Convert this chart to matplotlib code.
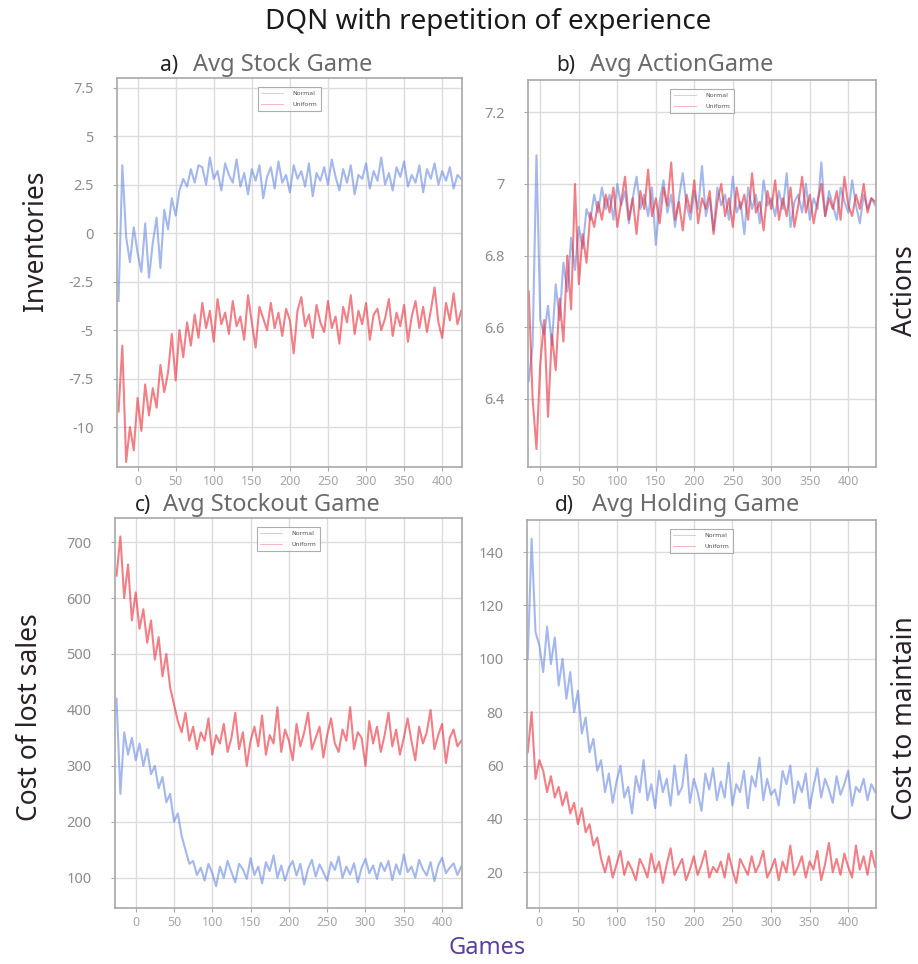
import numpy as np
import matplotlib
matplotlib.use("Agg")
import matplotlib.pyplot as plt

# ---------------- data ----------------
games_left = np.arange(-25, 430, 5)    # panels a) and c)
games_right = np.arange(-15, 440, 5)   # panels b) and d)

stock_normal = [
    -3.5, 3.5, -0.2, -1.5, 0.3, -1.0, -2.0, 0.5, -2.3, -0.5,
    0.8, -1.8, 1.2, 0.2, 1.8, 0.9, 2.2, 2.8, 2.4, 3.3,
    2.6, 3.5, 3.4, 2.5, 3.9, 2.8, 3.2, 2.2, 3.6, 3.0,
    2.6, 3.8, 2.4, 3.1, 2.0, 3.3, 2.7, 3.5, 1.8, 2.9,
    3.4, 2.3, 3.7, 2.6, 3.0, 2.1, 3.5, 2.8, 3.2, 2.4,
    3.6, 1.9, 3.1, 2.7, 3.4, 2.5, 3.8, 2.9, 2.2, 3.3,
    2.6, 3.5, 2.0, 3.0, 2.8, 3.6, 2.3, 3.2, 2.7, 3.9,
    2.5, 3.1, 2.2, 3.4, 2.9, 3.7, 2.4, 3.0, 2.6, 3.5,
    2.1, 3.3, 2.8, 3.6, 2.5, 3.2, 2.7, 3.4, 2.3, 3.0,
    2.8,
]
stock_uniform = [
    -9.2, -5.8, -11.8, -10.0, -11.2, -8.5, -10.2, -7.8, -9.4, -8.0,
    -9.0, -6.8, -8.2, -7.2, -5.2, -7.6, -5.0, -6.4, -4.6, -5.8,
    -4.2, -5.4, -3.6, -4.9, -4.0, -5.6, -3.4, -4.7, -4.1, -5.2,
    -3.5, -4.8, -4.3, -5.5, -3.2, -4.6, -5.9, -3.8, -4.4, -5.0,
    -3.6, -4.9, -4.1, -5.3, -3.9, -4.5, -6.2, -4.0, -3.3, -4.8,
    -4.2, -5.4, -3.7, -4.6, -5.1, -3.5, -4.9, -4.3, -5.7, -3.8,
    -4.6, -3.2, -5.2, -4.0, -4.7, -3.6, -5.5, -4.2, -3.9, -5.0,
    -4.4, -3.4, -5.3, -4.1, -4.8, -3.7, -5.6, -4.3, -3.5, -4.9,
    -3.8, -5.1, -4.0, -2.8, -4.6, -5.4, -3.6, -4.5, -3.1, -4.7,
    -4.0,
]

action_normal = [
    6.45, 6.55, 7.08, 6.62, 6.58, 6.66, 6.55, 6.72, 6.62, 6.78,
    6.70, 6.85, 6.76, 6.88, 6.82, 6.93, 6.90, 6.97, 6.92, 6.99,
    6.93, 6.97, 6.90, 7.00, 6.94, 6.98, 6.89, 6.96, 7.02, 6.93,
    6.97, 6.91, 6.99, 6.83, 6.95, 7.01, 6.92, 6.97, 6.88, 6.96,
    7.03, 6.94, 6.90, 6.98, 6.93, 7.05, 6.91, 6.96, 6.87, 6.99,
    6.94, 6.97, 6.90, 7.02, 6.92, 6.95, 6.86, 6.99, 6.93, 6.97,
    6.89, 7.01, 6.94, 6.96, 6.91, 6.98, 6.93, 7.03, 6.88, 6.95,
    6.97, 6.92, 7.00, 6.90, 6.96, 6.93, 7.06, 6.91, 6.98, 6.94,
    6.90, 6.99, 6.95, 6.92, 7.01, 6.94, 6.89, 6.97, 6.93, 6.96,
    6.94,
]
action_uniform = [
    6.70, 6.40, 6.26, 6.50, 6.62, 6.35, 6.58, 6.48, 6.68, 6.56,
    6.80, 6.65, 7.00, 6.72, 6.86, 6.78, 6.92, 6.88, 6.95, 6.90,
    6.97, 6.92, 6.99, 6.88, 6.95, 7.02, 6.90, 6.96, 6.86, 6.98,
    6.93, 7.04, 6.91, 6.96, 6.89, 6.99, 6.94, 7.06, 6.90, 6.95,
    6.87, 6.97, 6.92, 7.01, 6.89, 6.96, 6.93, 6.98, 6.86, 6.95,
    7.00, 6.91, 6.96, 6.88, 6.99, 6.93, 6.97, 6.90, 7.03, 6.92,
    6.95, 6.87, 6.98, 6.93, 7.01, 6.90, 6.96, 6.91, 6.99, 6.88,
    6.94, 7.02, 6.92, 6.97, 6.89, 6.95, 7.00, 6.91, 6.96, 6.93,
    6.98, 6.90, 7.02, 6.94, 6.91, 6.97, 6.93, 7.00, 6.92, 6.96,
    6.95,
]

stockout_normal = [
    420, 250, 360, 320, 350, 310, 340, 300, 330, 285,
    300, 260, 280, 235, 250, 200, 215, 175, 150, 125,
    130, 105, 118, 95, 125, 108, 85, 120, 100, 130,
    110, 92, 125, 115, 98, 135, 105, 120, 90, 128,
    112, 140, 100, 122, 95, 118, 130, 104, 125, 88,
    116, 132, 102, 124, 110, 95, 128, 114, 138, 100,
    120, 106, 126, 92, 118, 134, 108, 122, 98, 127,
    112, 130, 96, 124, 106, 142, 110, 120, 100, 132,
    115, 104, 128, 94, 122, 136, 108, 118, 126, 105,
    120,
]
stockout_uniform = [
    640, 710, 600, 660, 560, 610, 545, 580, 520, 560,
    490, 530, 460, 500, 440, 410, 380, 360, 395, 345,
    370, 330, 360, 345, 385, 320, 355, 340, 375, 325,
    350, 395, 330, 360, 300, 345, 370, 335, 390, 320,
    355, 340, 405, 325, 365, 345, 310, 375, 335, 360,
    395, 330, 350, 370, 315, 355, 385, 340, 325, 365,
    345, 405, 330, 360, 350, 300, 380, 340, 370, 325,
    355, 395, 335, 365, 320, 350, 385, 345, 310, 370,
    340, 360, 400, 330, 355, 375, 305, 350, 365, 335,
    345,
]

holding_normal = [
    100, 145, 110, 105, 95, 112, 98, 108, 90, 100,
    85, 95, 80, 88, 72, 78, 65, 70, 58, 62,
    50, 57, 46, 54, 60, 48, 52, 42, 56, 50,
    62, 47, 53, 44, 58, 50, 55, 45, 60, 49,
    52, 64, 46, 55, 50, 43, 57, 51, 59, 47,
    54, 48, 61, 45, 53, 50, 58, 44, 56, 52,
    63, 47, 55, 49, 51, 45, 58, 53, 60, 46,
    54, 50, 57, 44, 52, 59, 48, 55, 51, 46,
    56, 49, 53, 58, 45, 52, 50, 55, 47, 53,
    50,
]
holding_uniform = [
    65, 80, 55, 62, 58, 50, 56, 48, 52, 45,
    50, 42, 46, 38, 44, 35, 38, 30, 33, 25,
    20, 26, 18, 23, 28, 19, 24, 21, 17, 25,
    22, 18, 27, 20, 24, 16, 23, 29, 19, 22,
    25, 17, 21, 26, 19, 23, 28, 18, 22, 20,
    24, 18, 27, 21, 16, 25, 22, 19, 26, 20,
    23, 28, 18, 21, 25, 17, 24, 20, 30, 19,
    22, 26, 18, 24, 21, 28, 17, 23, 31, 20,
    25, 19, 27, 22, 18, 30, 21, 26, 19, 28,
    22,
]

x_ticks = [0, 50, 100, 150, 200, 250, 300, 350, 400]
stock_ticks = [-10, -7.5, -5, -2.5, 0, 2.5, 5, 7.5]
stock_ticklabels = ["-10", "-7.5", "-5", "-2.5", "0", "2.5", "5", "7.5"]
action_ticks = [6.4, 6.6, 6.8, 7.0, 7.2]
action_ticklabels = ["6.4", "6.6", "6.8", "7", "7.2"]
stockout_ticks = [100, 200, 300, 400, 500, 600, 700]
holding_ticks = [20, 40, 60, 80, 100, 120, 140]

# ---------------- figure ----------------
W, H = 918, 964
fig = plt.figure(figsize=(W / 100, H / 100), dpi=100)
LABEL_FONT = ["Noto Sans", "DejaVu Sans"]


def px_box(left, top, right, bottom):
    return [left / W, 1 - bottom / H, (right - left) / W, (bottom - top) / H]


BLUE = "#5a7ee0"
RED = "#ec2a36"


def make_panel(rect, games, normal, uniform, xlim, ylim, yticks, yticklabels):
    ax = fig.add_axes(rect)
    ax.plot(games, normal, color=BLUE, lw=1.5, alpha=0.55, label="Normal")
    ax.plot(games, uniform, color=RED, lw=1.5, alpha=0.6, label="Uniform")
    ax.set_xlim(*xlim)
    ax.set_ylim(*ylim)
    ax.set_xticks(x_ticks)
    ax.set_yticks(yticks)
    ax.set_yticklabels(yticklabels)
    ax.grid(True, color="#dcdcdc", lw=1.0)
    ax.set_axisbelow(True)
    for s in ax.spines.values():
        s.set_color("#a8a8a8")
        s.set_linewidth(1.2)
    ax.tick_params(axis="y", labelsize=10.5, labelcolor="#8c8c8c", color="#aaaaaa",
                   length=3, pad=14)
    ax.tick_params(axis="x", labelsize=9, labelcolor="#a6a6a6", color="#aaaaaa",
                   length=3, pad=3)
    for t in ax.get_xticklabels() + ax.get_yticklabels():
        t.set_family(LABEL_FONT)
    leg = ax.legend(loc="upper center", bbox_to_anchor=(0.5, 0.985), fontsize=4.5,
                    frameon=True, fancybox=False, handlelength=3.5,
                    borderpad=0.6, labelspacing=0.9, handletextpad=1.5)
    leg.get_frame().set_edgecolor("#9a9a9a")
    leg.get_frame().set_linewidth(0.8)
    for line in leg.get_lines():
        line.set_linewidth(0.6)
        line.set_alpha(0.4)
    for txt in leg.get_texts():
        txt.set_color("#555555")
    return ax


make_panel(px_box(117, 78, 462, 467), games_left, stock_normal, stock_uniform,
           (-27, 426), (-12.06, 8.0), stock_ticks, stock_ticklabels)
make_panel(px_box(528, 80, 876, 467), games_right, action_normal, action_uniform,
           (-16, 436), (6.21, 7.29), action_ticks, action_ticklabels)
make_panel(px_box(115, 518, 462, 908), games_left, stockout_normal, stockout_uniform,
           (-27, 426), (46, 743), stockout_ticks, [str(v) for v in stockout_ticks])
make_panel(px_box(527, 520, 876, 908), games_right, holding_normal, holding_uniform,
           (-16, 436), (6.6, 152), holding_ticks, [str(v) for v in holding_ticks])


def ftxt(x, y, s, **kw):
    fig.text(x / W, 1 - y / H, s, **kw)


# figure title
ftxt(488, 22, "DQN with repetition of experience", ha="center", va="center",
     fontsize=20, color="#1a1a1a", family=LABEL_FONT)

# panel titles: letter in dark bold, name in grey
panel_titles = [
    (160, 193, 65, "a)", "Avg Stock Game"),
    (556, 590, 65, "b)", "Avg ActionGame"),
    (135, 163, 505, "c)", "Avg Stockout Game"),
    (555, 592, 505, "d)", "Avg Holding Game"),
]
for xl, xt, yc, letter, name in panel_titles:
    ftxt(xl, yc, letter, ha="left", va="center", fontsize=15, fontweight="bold",
         color="#222222", family=LABEL_FONT)
    ftxt(xt, yc, name, ha="left", va="center", fontsize=17, color="#6a6a6a",
         family=LABEL_FONT)

# axis labels
ftxt(36, 241, "Inventories", rotation=90, ha="center", va="center", fontsize=19,
     color="#2a2028", family=LABEL_FONT)
ftxt(30, 717, "Cost of lost sales", rotation=90, ha="center", va="center",
     fontsize=19, color="#2a2028", family=LABEL_FONT)
ftxt(905, 291, "Actions", rotation=90, ha="center", va="center", fontsize=19,
     color="#2a2028", family=LABEL_FONT)
ftxt(905, 718, "Cost to maintain", rotation=90, ha="center", va="center",
     fontsize=19, color="#2a2028", family=LABEL_FONT)
ftxt(487, 948, "Games", ha="center", va="center", fontsize=17, color="#5b3f98",
     family=LABEL_FONT)

fig.savefig("out.png", dpi=100)
